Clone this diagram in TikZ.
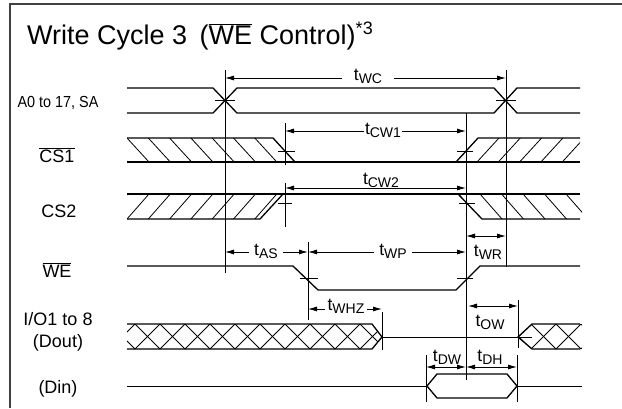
\documentclass[tikz,border=0pt]{standalone}
\usepackage{fontspec}
\setmainfont{Liberation Sans}
\usetikzlibrary{arrows.meta}
\newcommand\tlab[1]{t\raisebox{-3pt}{\fontsize{14}{14}\selectfont #1}}
\newcommand\ovl[1]{\ensuremath{\overline{\mbox{#1}}}}
\begin{document}
\begin{tikzpicture}[x=1pt,y=-1pt,
  sig/.style={line width=1.3pt, line join=miter},
  vline/.style={line width=0.9pt},
  hatch/.style={line width=0.8pt},
  dim/.style={line width=0.9pt,{Latex[length=9pt,width=5pt]}-{Latex[length=9pt,width=5pt]}},
  tlbl/.style={font=\fontsize{17.5}{20}\selectfont, inner sep=1pt},
  gap/.style={fill=white, inner xsep=5pt},
  siglbl/.style={font=\fontsize{18}{20}\selectfont, inner sep=0pt, anchor=base}]
\useasboundingbox (0,0) rectangle (622,408);
% frame
\draw[line width=1.5pt, black!75] (10,408) -- (10,4) -- (622,4);
% title
\node[anchor=base west, inner sep=0pt, font=\fontsize{27}{30}\selectfont] (title) at (27,44)
  {Write Cycle 3\hspace{5pt} (\ovl{WE} Control)\raisebox{10pt}{\fontsize{18}{18}\selectfont *3}};
% signal labels
\node[siglbl, font=\fontsize{16}{18}\selectfont, xscale=0.9, transform shape] (lA) at (58,107) {A0 to 17, SA};
\node[siglbl] (lCS1) at (57,162) {\ovl{CS1}};
\node[siglbl] (lCS2) at (59,217) {CS2};
\node[siglbl] (lWE) at (57,277) {\ovl{WE}};
\node[siglbl] (lIO) at (58,325) {I/O1 to 8};
\node[siglbl] (lDout) at (58,347) {(Dout)};
\node[siglbl] (lDin) at (58,393) {(Din)};

% ---- A0 to 17, SA
\draw[sig] (127,88) -- (213,88) -- (237,113) -- (494,113) -- (517,88) -- (580,88);
\draw[sig] (127,113) -- (213,113) -- (237,88) -- (494,88) -- (517,113) -- (580,113);
\draw[vline] (215,100) -- (235,100);
\draw[vline] (496,100) -- (516,100);

% ---- CS1 (138 / 162)
\begin{scope}
\clip (127,138) -- (273,138) -- (295,162) -- (127,162) -- cycle;
\foreach \k in {-1,...,8} {\draw[hatch] (127+21.3*\k,138) -- (149+21.3*\k,162);}
\end{scope}
\begin{scope}
\clip (456,162) -- (478,138) -- (580,138) -- (580,162) -- cycle;
\foreach \k in {-1,...,6} {\draw[hatch] (477+21.3*\k,162) -- (499+21.3*\k,138);}
\end{scope}
\draw[sig] (127,138) -- (273,138) -- (295,162);
\draw[sig] (127,162) -- (580,162);
\draw[sig] (456,162) -- (478,138) -- (580,138);
\draw[vline] (278,151) -- (295,151);
\draw[vline] (457,151) -- (473,151);

% ---- CS2 (194 / 219)
\begin{scope}
\clip (127,194) -- (283,194) -- (260,219) -- (127,219) -- cycle;
\foreach \k in {-1,...,8} {\draw[hatch] (127+21.3*\k,219) -- (149+21.3*\k,194);}
\end{scope}
\begin{scope}
\clip (458,194) -- (582,194) -- (582,219) -- (482,219) -- cycle;
\foreach \k in {-1,...,6} {\draw[hatch] (480+21.5*\k,194) -- (502+21.5*\k,219);}
\end{scope}
\draw[sig] (127,194) -- (580,194);
\draw[sig] (127,219) -- (260,219) -- (283,194);
\draw[sig] (458,194) -- (482,219) -- (580,219);
\draw[vline] (278,203) -- (292,203);
\draw[vline] (459,203) -- (475,203);

% ---- WE
\draw[sig] (127,266) -- (293,266) -- (318,290) -- (456,290) -- (480,266) -- (580,266);
\draw[vline] (300,278) -- (318,278);
\draw[vline] (457,278) -- (473,278);

% ---- Dout (324 / 337 / 349)
\begin{scope}
\clip (127,324) -- (372,324) -- (382,337) -- (372,349) -- (127,349) -- cycle;
\foreach \k in {-1,...,10} {
  \draw[hatch] (135+25*\k,324) -- (160+25*\k,349);
  \draw[hatch] (135+25*\k,349) -- (160+25*\k,324);}
\end{scope}
\begin{scope}
\clip (518,337) -- (532,324) -- (582,324) -- (582,349) -- (532,349) -- cycle;
\foreach \k in {-1,...,3} {
  \draw[hatch] (531+25*\k,324) -- (556+25*\k,349);
  \draw[hatch] (531+25*\k,349) -- (556+25*\k,324);}
\end{scope}
\draw[sig] (127,324) -- (372,324) -- (382,337) -- (372,349) -- (127,349);
\draw[sig] (580,324) -- (532,324) -- (518,337) -- (532,349) -- (580,349);
\draw[vline] (382,337) -- (532,337);

% ---- Din
\draw[vline] (127,386) -- (427,386);
\draw[vline] (517,386) -- (582,386);
\draw[sig] (427,386) -- (437,374) -- (507,374) -- (517,386) -- (507,398) -- (437,398) -- cycle;

% ---- vertical reference lines
\coordinate (v225t) at (225,70);  \coordinate (v225b) at (225,273);
\coordinate (v506t) at (506,70);  \coordinate (v506b) at (506,267);
\coordinate (v466t) at (466,113); \coordinate (v466b) at (466,380);
\draw[vline] (v225t) -- (v225b);
\draw[vline] (v506t) -- (v506b);
\draw[vline] (285,123) -- (285,165);
\draw[vline] (285,183) -- (285,227);
\draw[vline] (v466t) -- (v466b);
\draw[vline] (308,242) -- (308,320);
\draw[vline] (382,312) -- (382,350);
\draw[vline] (518,300) -- (518,348);
\draw[vline] (426,355) -- (426,402);
\draw[vline] (517,355) -- (517,402);

% ---- timing dimensions
\coordinate (a1) at (225,78);  \coordinate (a2) at (506,78);
\draw[dim] (a1) -- (a2);
\node[tlbl,gap,inner xsep=12pt] (tWC) at (368,76) {\tlab{WC}};
\coordinate (b1) at (285,131); \coordinate (b2) at (466,131);
\draw[dim] (b1) -- (b2);
\node[tlbl,gap,inner xsep=1pt] (tCW1) at (383,130) {\tlab{CW1}};
\coordinate (c1) at (285,188); \coordinate (c2) at (466,188);
\draw[dim] (c1) -- (c2);
\node[tlbl,gap,inner xsep=2pt] (tCW2) at (381,180) {\tlab{CW2}};
\coordinate (d1) at (225,252); \coordinate (d2) at (308,252); \coordinate (d3) at (466,252);
\draw[dim] (d1) -- (d2);
\draw[dim] (d2) -- (d3);
\node[tlbl,gap] (tAS) at (266,251) {\tlab{AS}};
\node[tlbl,gap] (tWP) at (393,251) {\tlab{WP}};
\coordinate (e1) at (466,236); \coordinate (e2) at (506,236);
\draw[dim] (e1) -- (e2);
\node[tlbl] (tWR) at (488,252) {\tlab{WR}};
\coordinate (f1) at (308,309); \coordinate (f2) at (382,309);
\draw[dim] (f1) -- (f2);
\node[tlbl,gap,inner xsep=3pt] (tWHZ) at (346,306) {\tlab{WHZ}};
\coordinate (g1) at (468,306); \coordinate (g2) at (518,306);
\draw[dim] (g1) -- (g2);
\node[tlbl] (tOW) at (490,322) {\tlab{OW}};
\coordinate (h1) at (426,367); \coordinate (h2) at (466,367); \coordinate (h3) at (517,367);
\draw[dim] (h1) -- (h2);
\draw[dim] (h2) -- (h3);
\node[tlbl] (tDW) at (447,357) {\tlab{DW}};
\node[tlbl] (tDH) at (490,357) {\tlab{DH}};
\end{tikzpicture}
\end{document}
